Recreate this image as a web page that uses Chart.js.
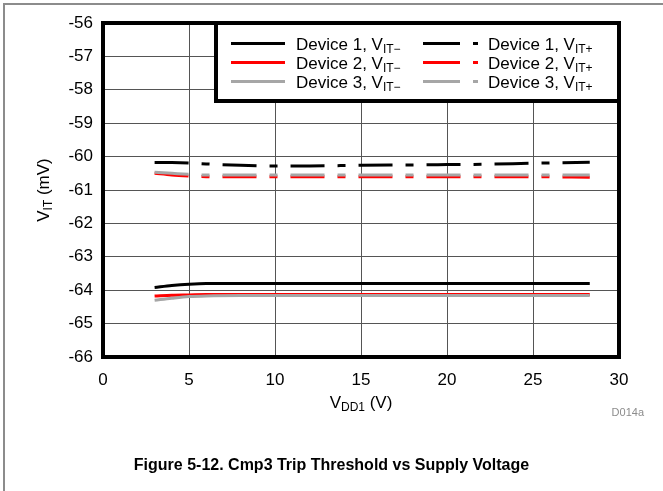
<!DOCTYPE html>
<html>
<head>
<meta charset="utf-8">
<script src="https://cdn.jsdelivr.net/npm/chart.js@4.4.0/dist/chart.umd.min.js"></script>
<style>
  html, body { margin: 0; padding: 0; background: #fff; }
  #wrap { position: relative; width: 663px; height: 491px; overflow: hidden; }
  #frame { position: absolute; left: 3px; top: 3px; width: 700px; height: 520px;
           border-left: 2px solid #8c8c8c; border-top: 2px solid #8c8c8c; }
  #chart { position: absolute; left: 0; top: 0; }
  #caption { position: absolute; left: 0; width: 663px; top: 456px; text-align: center;
             font: bold 16px "Liberation Sans", Arial, sans-serif; color: #000; }
</style>
</head>
<body>
<div id="wrap">
  <div id="frame"></div>
  <canvas id="chart" width="663" height="491"></canvas>
  <div id="caption">Figure 5-12. Cmp3 Trip Threshold vs Supply Voltage</div>
</div>
<script>
// Supply voltage points (V)
const vdd = [3, 4, 5, 6, 8, 10, 12, 15, 18, 20, 22, 25, 28.3];

// Threshold readings (mV)
const dev1Neg = [-63.92, -63.86, -63.82, -63.8, -63.8, -63.8, -63.8, -63.8, -63.8, -63.8, -63.8, -63.8, -63.8];
const dev2Neg = [-64.17, -64.15, -64.14, -64.13, -64.13, -64.13, -64.13, -64.13, -64.13, -64.13, -64.13, -64.13, -64.13];
const dev3Neg = [-64.3, -64.24, -64.19, -64.17, -64.16, -64.16, -64.16, -64.16, -64.16, -64.16, -64.16, -64.16, -64.16];
const dev1Pos = [-60.18, -60.18, -60.19, -60.22, -60.26, -60.28, -60.28, -60.26, -60.25, -60.24, -60.23, -60.2, -60.17];
const dev2Pos = [-60.5, -60.55, -60.58, -60.6, -60.6, -60.6, -60.6, -60.6, -60.6, -60.6, -60.6, -60.6, -60.62];
const dev3Pos = [-60.47, -60.5, -60.53, -60.55, -60.55, -60.55, -60.55, -60.55, -60.55, -60.55, -60.55, -60.55, -60.55];

const seriesLabels = ['Device 1, V', 'Device 2, V', 'Device 3, V', 'Device 1, V', 'Device 2, V', 'Device 3, V'];
const seriesSubs = ['IT\u2212', 'IT\u2212', 'IT\u2212', 'IT+', 'IT+', 'IT+'];

const FONT = '"Liberation Sans", Arial, sans-serif';
const dashPattern = [34, 13, 8, 13];

// order: lower number is drawn on top (grey over black over red)
function makeSet(i, values, color, dashed, order) {
    return {
        label: seriesLabels[i] + seriesSubs[i],
        data: vdd.map((x, k) => ({ x: x, y: values[k] })),
        borderColor: color,
        borderWidth: 3,
        borderDash: dashed ? dashPattern : [],
        pointRadius: 0,
        fill: false,
        order: order,
        cubicInterpolationMode: 'monotone'
    };
}

// Draw text with a subscript part
function subText(ctx, x, y, main, sub, size, subSize, drop) {
    ctx.font = size + 'px ' + FONT;
    ctx.fillText(main, x, y);
    const w = ctx.measureText(main).width;
    ctx.font = subSize + 'px ' + FONT;
    ctx.fillText(sub, x + w, y + drop);
    return w + ctx.measureText(sub).width;
}

function measureSub(ctx, main, sub, size, subSize) {
    ctx.font = size + 'px ' + FONT;
    const a = ctx.measureText(main).width;
    ctx.font = subSize + 'px ' + FONT;
    return a + ctx.measureText(sub).width;
}

const decorPlugin = {
    id: 'decor',
    afterDraw(chart) {
        const ctx = chart.ctx;
        const a = chart.chartArea;
        ctx.save();

        // plot frame
        ctx.strokeStyle = '#000';
        ctx.lineWidth = 4;
        ctx.setLineDash([]);
        ctx.strokeRect(a.left, a.top, a.right - a.left, a.bottom - a.top);

        // legend box
        const lx = 216, ly = a.top, lw = a.right - 216, lh = 101 - a.top;
        ctx.fillStyle = '#fff';
        ctx.fillRect(lx, ly, lw, lh);
        ctx.strokeRect(lx, ly, lw, lh);

        const rows = [43.5, 62.5, 81.5];
        seriesLabels.forEach((label, i) => {
            const ds = chart.data.datasets[i];
            const col = i < 3 ? 0 : 1;
            const y = rows[i % 3];
            ctx.strokeStyle = ds.borderColor;
            ctx.lineWidth = 3;
            if (col === 0) {
                ctx.setLineDash([]);
                ctx.beginPath(); ctx.moveTo(231, y); ctx.lineTo(285, y); ctx.stroke();
            } else {
                ctx.setLineDash([37, 13, 5, 100]);
                ctx.beginPath(); ctx.moveTo(423, y); ctx.lineTo(478, y); ctx.stroke();
            }
            ctx.setLineDash([]);
            ctx.fillStyle = '#000';
            ctx.textAlign = 'left';
            ctx.textBaseline = 'alphabetic';
            subText(ctx, col === 0 ? 296 : 488, y + 6.5, label, seriesSubs[i], 17, 12, 3);
        });

        // y axis title (rotated)
        ctx.save();
        ctx.translate(49, (a.top + a.bottom) / 2);
        ctx.rotate(-Math.PI / 2);
        const yw = measureSub(ctx, 'V', 'IT', 17, 12) + measureSub(ctx, ' (mV)', '', 17, 12);
        let xx = -yw / 2;
        xx += subText(ctx, xx, 0, 'V', 'IT', 17, 12, 3);
        ctx.font = '17px ' + FONT;
        ctx.fillText(' (mV)', xx, 0);
        ctx.restore();

        // x axis title
        const cx = (a.left + a.right) / 2;
        const xw = measureSub(ctx, 'V', 'DD1', 17, 12) + measureSub(ctx, ' (V)', '', 17, 12);
        let px = cx - xw / 2;
        px += subText(ctx, px, 408, 'V', 'DD1', 17, 12, 3);
        ctx.font = '17px ' + FONT;
        ctx.fillText(' (V)', px, 408);

        // figure code
        ctx.fillStyle = '#8c8c8c';
        ctx.font = '11px ' + FONT;
        ctx.textAlign = 'right';
        ctx.fillText('D014a', 644, 416);

        ctx.restore();
    }
};

new Chart(document.getElementById('chart'), {
    type: 'line',
    data: {
        datasets: [
            makeSet(0, dev1Neg, '#000000', false, 1),
            makeSet(1, dev2Neg, '#ff0000', false, 2),
            makeSet(2, dev3Neg, '#a6a6a6', false, 0),
            makeSet(3, dev1Pos, '#000000', true, 1),
            makeSet(4, dev2Pos, '#ff0000', true, 2),
            makeSet(5, dev3Pos, '#a6a6a6', true, 0)
        ]
    },
    options: {
        responsive: false,
        animation: false,
        layout: { padding: { left: 0, top: 23, right: 44, bottom: 0 } },
        plugins: { legend: { display: false }, tooltip: { enabled: false } },
        scales: {
            x: {
                type: 'linear',
                min: 0,
                max: 30,
                ticks: { stepSize: 5, color: '#000', font: { family: FONT, size: 17 }, padding: 13, maxRotation: 0 },
                grid: { color: '#555', lineWidth: 1, drawTicks: false },
                border: { display: false },
                afterFit(scale) { scale.height = 491 - 357; }
            },
            y: {
                min: -66,
                max: -56,
                ticks: { stepSize: 1, color: '#000', font: { family: FONT, size: 17 }, padding: 10,
                         callback: v => String(v) },
                grid: { color: '#555', lineWidth: 1, drawTicks: false },
                border: { display: false },
                afterFit(scale) { scale.width = 103; }
            }
        }
    },
    plugins: [decorPlugin]
});
</script>
</body>
</html>
